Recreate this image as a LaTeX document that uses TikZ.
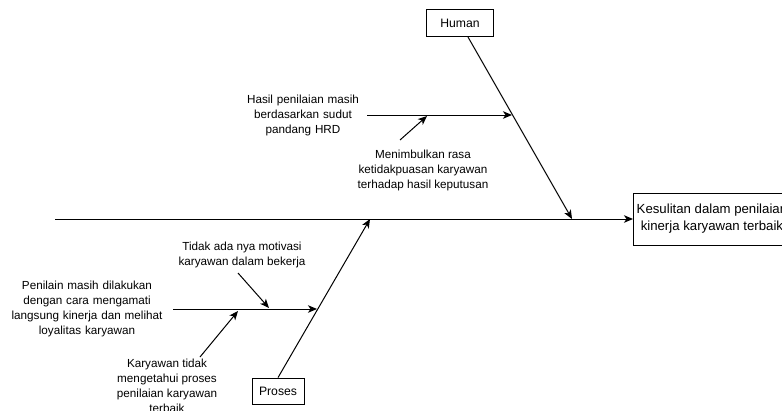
\documentclass[tikz,border=0pt]{standalone}
\usepackage{fontspec}
\setmainfont{Liberation Sans}
\usetikzlibrary{arrows.meta}

\begin{document}
\begin{tikzpicture}[x=1pt, y=-1pt,
    label text/.style={align=center, font=\fontsize{11.7}{15}\selectfont, inner sep=0pt},
    head box/.style={draw, line width=0.8pt, align=center, font=\fontsize{12.2}{15}\selectfont},
    bone/.style={->, >={Stealth[length=9pt, width=7.5pt, inset=2.5pt]}, line width=1pt}]
    \useasboundingbox (0,0) rectangle (782,410);

    % head and the two categories
    \node [head box, minimum width=154, minimum height=52, anchor=west, font=\fontsize{13.2}{17}\selectfont] (effect) at (633,219) {Kesulitan dalam penilaian\\kinerja karyawan terbaik};
    \node [head box, minimum width=67, minimum height=27] (human) at (460,23) {Human};
    \node [head box, minimum width=52, minimum height=26] (proses) at (278,391) {Proses};

    % points on the bones
    \coordinate (tail) at (55,219);
    \coordinate (hx) at (572,219);
    \coordinate (px) at (370,219);
    \coordinate (h1) at (512,115);
    \coordinate (p1) at (317,309);

    % spine and category bones
    \draw[bone] (tail) -- (effect.west);
    \draw[bone] (human) -- (hx);
    \draw[bone] (proses.north) -- (px);

    % causes - Human
    \node [label text, text width=128] (hasil) at (303,115) {Hasil penilaian masih\\berdasarkan sudut\\pandang HRD};
    \node [label text] (menimbulkan) at (423,170) {Menimbulkan rasa\\ketidakpuasan karyawan\\terhadap hasil keputusan};
    \coordinate (m0) at (400,140);
    \coordinate (m1) at (427,116);
    \draw[bone] (hasil) -- (h1);
    \draw[bone] (m0) -- (m1);

    % causes - Proses
    \node [label text, text width=172] (penilain) at (87,309) {Penilain masih dilakukan\\dengan cara mengamati\\langsung kinerja dan melihat\\loyalitas karyawan};
    \node [label text] (tidakada) at (242,255) {Tidak ada nya motivasi\\karyawan dalam bekerja};
    \node [label text] (karyawan) at (167,385.5) {Karyawan tidak\\mengetahui proses\\penilaian karyawan\\terbaik};
    \coordinate (t0) at (238,273);
    \coordinate (t1) at (269,308);
    \coordinate (k0) at (200,357);
    \coordinate (k1) at (238,311);
    \draw[bone] (penilain) -- (p1);
    \draw[bone] (t0) -- (t1);
    \draw[bone] (k0) -- (k1);

\end{tikzpicture}
\end{document}
